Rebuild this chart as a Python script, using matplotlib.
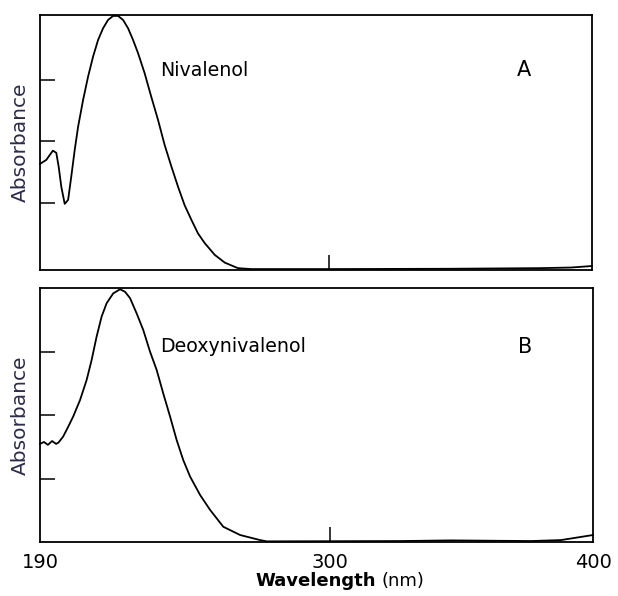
import numpy as np
import matplotlib as mpl
import matplotlib.pyplot as plt

mpl.rcParams['font.family'] = ['DejaVu Sans']

# Nivalenol spectrum (panel A), wavelength in nm, absorbance in arbitrary units
wl_niv = [190.0, 192.4, 194.9, 196.2, 197.1, 198.1, 199.4, 200.7, 201.9, 203.2,
          204.5, 206.4, 208.3, 210.2, 212.1, 214.0, 215.9, 217.8, 219.7, 221.6,
          223.5, 225.4, 227.3, 229.8, 232.3, 234.9, 237.4, 240.0, 242.5, 245.0,
          247.6, 250.1, 252.7, 256.5, 260.3, 265.3, 270.4, 277.5, 300.3, 346.0,
          380.0, 392.0, 400.0]
abs_niv = [0.327, 0.340, 0.370, 0.363, 0.318, 0.253, 0.197, 0.210, 0.286, 0.372,
           0.448, 0.535, 0.611, 0.676, 0.730, 0.768, 0.795, 0.808, 0.808, 0.795,
           0.768, 0.730, 0.687, 0.622, 0.546, 0.470, 0.389, 0.318, 0.253, 0.193,
           0.145, 0.101, 0.069, 0.031, 0.006, -0.012, -0.015, -0.015, -0.015, -0.014,
           -0.012, -0.010, -0.005]

# Deoxynivalenol spectrum (panel B)
wl_don = [190.0, 191.5, 193.0, 194.6, 196.1, 197.0, 198.8, 200.7, 202.6, 205.2,
          207.7, 209.6, 211.5, 213.4, 215.3, 217.8, 220.4, 222.3, 224.2, 226.7,
          229.2, 231.8, 234.3, 236.8, 239.4, 241.9, 244.4, 247.0, 250.8, 254.6,
          259.6, 266.0, 273.6, 276.1, 327.0, 346.0, 376.4, 387.8, 400.0]
abs_don = [0.309, 0.315, 0.306, 0.318, 0.309, 0.313, 0.332, 0.363, 0.395, 0.447,
           0.510, 0.573, 0.647, 0.710, 0.752, 0.783, 0.796, 0.788, 0.768, 0.720,
           0.668, 0.599, 0.542, 0.468, 0.395, 0.321, 0.258, 0.206, 0.148, 0.101,
           0.048, 0.022, 0.006, 0.002, 0.003, 0.005, 0.003, 0.006, 0.022]

names = ['Nivalenol', 'Deoxynivalenol']
letters = ['A', 'B']
yticks = [0.2, 0.4, 0.6]
xticks = [190, 300, 400]

fig = plt.figure(figsize=(6.18, 5.96), dpi=100)
axA = fig.add_axes([40/618, 1-270/596, 552/618, 255/596])
axB = fig.add_axes([40/618, 1-542/596, 553/618, 254/596])

ylims = [(-0.018, 0.811), (0.0, 0.80)]
label_y = [0.784, 0.768]
data = [(wl_niv, abs_niv), (wl_don, abs_don)]

for i, ax in enumerate([axA, axB]):
    x, y = data[i]
    ax.plot(x, y, color='k', lw=1.3, clip_on=False, solid_joinstyle='round')
    ax.set_xlim(190, 400)
    ax.set_ylim(*ylims[i])
    ax.set_yticks(yticks)
    ax.set_yticklabels([])
    ax.set_xticks([300])
    ax.tick_params(direction='in', length=11, width=1.1, color='k')
    for s in ax.spines.values():
        s.set_linewidth(1.3)
    ax.set_ylabel('Absorbance', fontsize=14.5, color='#2b2b4a', labelpad=4)
    ax.text(0.217, label_y[i], names[i], transform=ax.transAxes,
            fontsize=13.7, ha='left', va='center')
    ax.text(0.877, label_y[i], letters[i], transform=ax.transAxes,
            fontsize=15, ha='center', va='center')

axA.set_xticklabels([])
axB.set_xticks(xticks)
axB.set_xticklabels([str(t) for t in xticks], fontsize=14)
axB.tick_params(axis='x', pad=8)
for t in axB.xaxis.get_major_ticks():
    if t.get_loc() != 300:
        t.tick1line.set_visible(False)

t1 = fig.text(255/618, 1-581/596, 'Wavelength', fontsize=13,
              fontweight='bold', ha='left', va='center')
axB.annotate('(nm)', xy=(1, 0.5), xycoords=t1, xytext=(4, 0),
             textcoords='offset points', fontsize=13, ha='left', va='center')

plt.savefig('out.png', dpi=100)
